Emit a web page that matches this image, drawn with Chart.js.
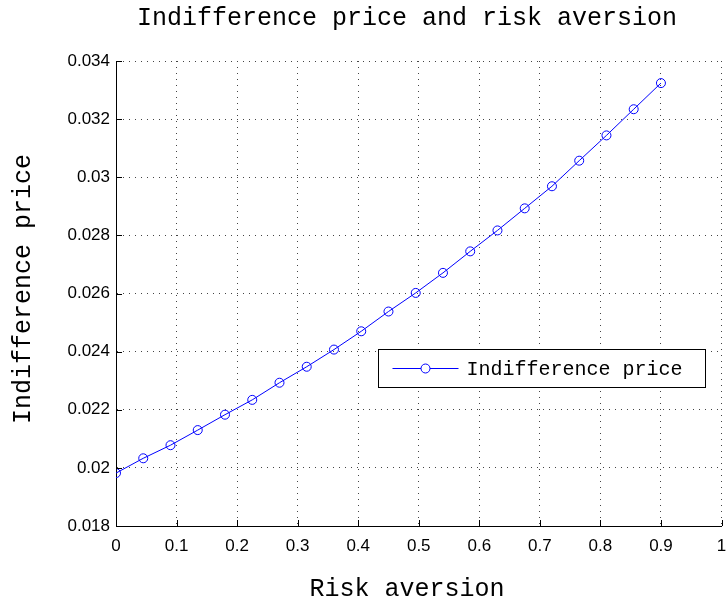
<!DOCTYPE html>
<html>
<head>
<meta charset="utf-8">
<script src="https://cdn.jsdelivr.net/npm/chart.js@4"></script>
<style>
  body { margin: 0; background: #fff; }
  canvas { display: block; }
</style>
</head>
<body>
<canvas id="myChart" width="727" height="602"></canvas>
<script>
const MONO = '"Liberation Mono", "DejaVu Sans Mono", monospace';
const SANS = '"Liberation Sans", Arial, sans-serif';

const TITLE = 'Indifference price and risk aversion';
const X_LABEL = 'Risk aversion';
const Y_LABEL = 'Indifference price';

// risk aversion values (x)
const riskAversion = [0, 0.045, 0.09, 0.135, 0.18, 0.225, 0.27, 0.315, 0.36, 0.405, 0.45,
  0.495, 0.54, 0.585, 0.63, 0.675, 0.72, 0.765, 0.81, 0.855, 0.9];
// indifference price (y)
const indifferencePrice = [0.01982, 0.02033, 0.02078, 0.0213, 0.02183, 0.02234, 0.02293,
  0.02348, 0.02407, 0.0247, 0.02538, 0.02602, 0.02671, 0.02745, 0.02817, 0.02893,
  0.02969, 0.03057, 0.03144, 0.03234, 0.03324];

const xTicks = [0, 0.1, 0.2, 0.3, 0.4, 0.5, 0.6, 0.7, 0.8, 0.9, 1];
const yTicks = [0.018, 0.02, 0.022, 0.024, 0.026, 0.028, 0.03, 0.032, 0.034];

const points = riskAversion.map((x, i) => ({x: x, y: indifferencePrice[i]}));

// inward tick marks like matlab
const innerTicks = {
  id: 'innerTicks',
  afterDraw(chart) {
    const {ctx, chartArea, scales} = chart;
    ctx.save();
    ctx.strokeStyle = '#000';
    ctx.lineWidth = 1;
    ctx.beginPath();
    xTicks.forEach(v => {
      const px = Math.round(scales.x.getPixelForValue(v)) + 0.5;
      ctx.moveTo(px, chartArea.bottom);
      ctx.lineTo(px, chartArea.bottom - 6);
    });
    yTicks.forEach(v => {
      const py = Math.round(scales.y.getPixelForValue(v)) + 0.5;
      ctx.moveTo(chartArea.left, py);
      ctx.lineTo(chartArea.left + 6, py);
    });
    ctx.stroke();
    ctx.restore();
  }
};

// title and axis labels, placed like the matlab figure
const labelsPlugin = {
  id: 'labelsPlugin',
  afterDraw(chart) {
    const ctx = chart.ctx;
    ctx.save();
    ctx.fillStyle = '#000';
    ctx.font = '25px ' + MONO;
    ctx.textAlign = 'center';
    ctx.textBaseline = 'middle';
    ctx.fillText(TITLE, 407, 18);
    ctx.fillText(X_LABEL, 407, 589);
    ctx.translate(23, 289);
    ctx.rotate(-Math.PI / 2);
    ctx.fillText(Y_LABEL, 0, 0);
    ctx.restore();
  }
};

// legend box inside the plot
const boxLegend = {
  id: 'boxLegend',
  afterDraw(chart) {
    const ctx = chart.ctx;
    const ds = chart.data.datasets[0];
    const x0 = 378.5, y0 = 349.5, w = 327, h = 38;
    ctx.save();
    ctx.fillStyle = '#fff';
    ctx.fillRect(x0, y0, w, h);
    ctx.strokeStyle = '#000';
    ctx.lineWidth = 1;
    ctx.strokeRect(x0, y0, w, h);
    const ly = y0 + h / 2;
    ctx.strokeStyle = ds.borderColor;
    ctx.beginPath();
    ctx.moveTo(x0 + 14, ly);
    ctx.lineTo(x0 + 80, ly);
    ctx.stroke();
    ctx.beginPath();
    ctx.arc(x0 + 47, ly, 4.5, 0, Math.PI * 2);
    ctx.fillStyle = '#fff';
    ctx.fill();
    ctx.stroke();
    ctx.fillStyle = '#000';
    ctx.font = '20px ' + MONO;
    ctx.textBaseline = 'middle';
    ctx.fillText(ds.label, x0 + 88, ly + 1);
    ctx.restore();
  }
};

const data = {
  datasets: [{
    label: 'Indifference price',
    data: points,
    borderColor: '#0000ff',
    backgroundColor: 'transparent',
    borderWidth: 1,
    pointRadius: 4.5,
    pointBorderWidth: 1,
    pointBackgroundColor: 'transparent',
    pointBorderColor: '#0000ff',
    tension: 0
  }]
};

const config = {
  type: 'line',
  data: data,
  options: {
    responsive: false,
    devicePixelRatio: 1,
    animation: false,
    layout: { padding: { left: 0, right: 5, top: 61, bottom: 0 } },
    scales: {
      x: {
        type: 'linear',
        min: 0,
        max: 1,
        afterFit(s) { s.height = 76; s.paddingRight = 0; s.paddingLeft = 0; },
        afterBuildTicks(s) { s.ticks = xTicks.map(v => ({value: v})); },
        ticks: {
          color: '#000',
          padding: 10,
          maxRotation: 0,
          font: { family: SANS, size: 17 },
          callback: v => String(parseFloat(v.toFixed(2)))
        },
        grid: { color: '#444', lineWidth: 1, drawTicks: false },
        border: { display: true, color: '#000', width: 1, dash: [1, 5] }
      },
      y: {
        min: 0.018,
        max: 0.034,
        afterFit(s) { s.width = 116; s.paddingTop = 0; s.paddingBottom = 0; },
        afterBuildTicks(s) { s.ticks = yTicks.map(v => ({value: v})); },
        ticks: {
          color: '#000',
          padding: 6,
          font: { family: SANS, size: 17 },
          callback: v => String(parseFloat(v.toFixed(3)))
        },
        grid: { color: '#444', lineWidth: 1, drawTicks: false },
        border: { display: true, color: '#000', width: 1, dash: [1, 5] }
      }
    },
    plugins: {
      legend: { display: false },
      tooltip: { enabled: false },
      title: { display: false }
    }
  },
  plugins: [innerTicks, labelsPlugin, boxLegend]
};

const myChart = new Chart(document.getElementById('myChart'), config);
</script>
</body>
</html>
